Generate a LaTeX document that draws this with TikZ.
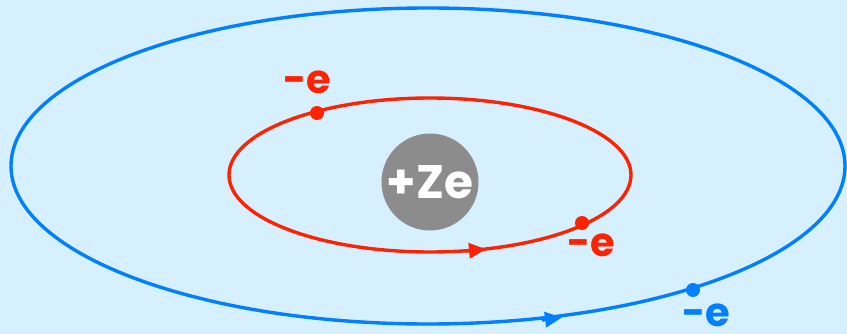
\documentclass[tikz,border=0pt]{standalone}
\usepackage{fontspec}
\setmainfont{Poppins}
\usetikzlibrary{arrows.meta}
\definecolor{bgblue}{HTML}{D6F0FF}
\definecolor{orbred}{HTML}{FF2200}
\definecolor{orbblue}{HTML}{0080FF}
\definecolor{nucgray}{HTML}{8C8C8C}
\begin{document}
\begin{tikzpicture}[x=1pt,y=-1pt,
   orbit/.style={line width=3.4pt},
   electron/.style={circle, fill, inner sep=0pt, minimum size=14pt},
   elabel/.style={font=\fontsize{40}{42}\bfseries, inner sep=0pt, text depth=0pt, anchor=base},
   flow/.style={-{Triangle[length=17pt,width=15pt]}, line width=3.4pt}]
   \fill[bgblue] (0,0) rectangle (847,334);
   \useasboundingbox (0,0) rectangle (847,334);

   % orbits
   \draw[orbit, orbblue] (428,166) ellipse [x radius=417pt, y radius=158pt];
   \draw[orbit, orbred] (430,175) ellipse [x radius=201pt, y radius=77pt];
   \draw[flow, orbred] (466,251) -- (486,249.2);
   \draw[flow, orbblue] (542,320) -- (562,317.5);

   % nucleus
   \node[circle, fill=nucgray, minimum size=97pt, inner sep=0pt] (nuc) at (430,182) {};
   \node[text=white, font=\fontsize{47}{49}\bfseries] (ze) at (nuc) {+Ze};

   % electrons
   \node[electron, orbred] (e1) at (317,113) {};
   \node[electron, orbred] (e2) at (582,223) {};
   \node[electron, orbblue] (e3) at (693,290) {};
   \node[elabel, orbred] (l1) at ([xshift=-10pt,yshift=19pt]e1) {-e};
   \node[elabel, orbred] (l2) at ([xshift=9pt,yshift=-33pt]e2) {-e};
   \node[elabel, orbblue] (l3) at ([xshift=13pt,yshift=-36pt]e3) {-e};
\end{tikzpicture}
\end{document}
